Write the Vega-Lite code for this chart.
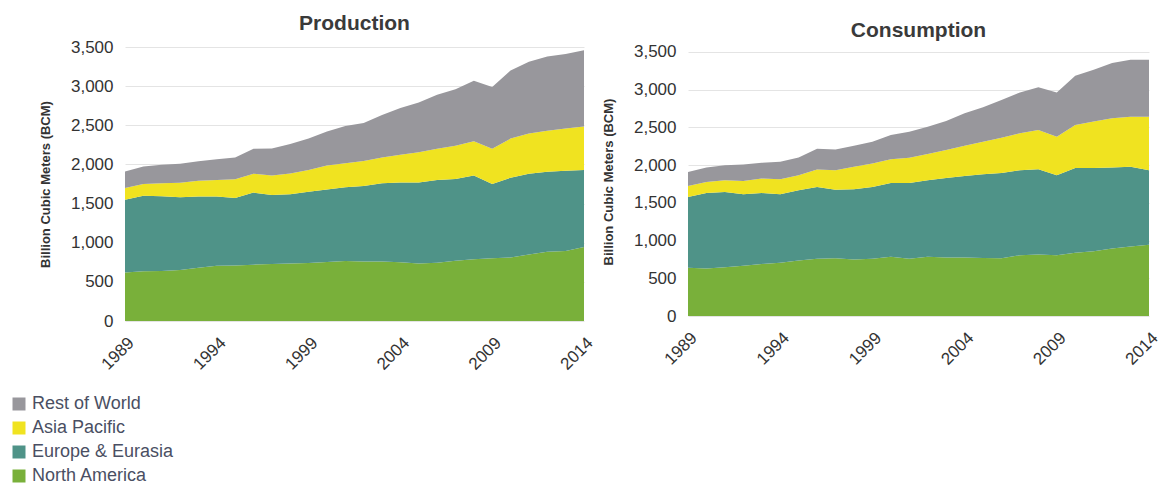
{
  "$schema": "https://vega.github.io/schema/vega-lite/v6.json",
  "padding": {"left": 10, "top": 13, "right": 5, "bottom": 0},
  "background": "white",
  "datasets": {
    "prod": [
      {"year":1989,"region":"North America","value":620},{"year":1989,"region":"Europe & Eurasia","value":930},{"year":1989,"region":"Asia Pacific","value":150},{"year":1989,"region":"Rest of World","value":210},
      {"year":1990,"region":"North America","value":635},{"year":1990,"region":"Europe & Eurasia","value":965},{"year":1990,"region":"Asia Pacific","value":150},{"year":1990,"region":"Rest of World","value":225},
      {"year":1991,"region":"North America","value":638},{"year":1991,"region":"Europe & Eurasia","value":957},{"year":1991,"region":"Asia Pacific","value":165},{"year":1991,"region":"Rest of World","value":235},
      {"year":1992,"region":"North America","value":650},{"year":1992,"region":"Europe & Eurasia","value":930},{"year":1992,"region":"Asia Pacific","value":185},{"year":1992,"region":"Rest of World","value":245},
      {"year":1993,"region":"North America","value":680},{"year":1993,"region":"Europe & Eurasia","value":910},{"year":1993,"region":"Asia Pacific","value":200},{"year":1993,"region":"Rest of World","value":250},
      {"year":1994,"region":"North America","value":705},{"year":1994,"region":"Europe & Eurasia","value":885},{"year":1994,"region":"Asia Pacific","value":210},{"year":1994,"region":"Rest of World","value":265},
      {"year":1995,"region":"North America","value":708},{"year":1995,"region":"Europe & Eurasia","value":862},{"year":1995,"region":"Asia Pacific","value":240},{"year":1995,"region":"Rest of World","value":280},
      {"year":1996,"region":"North America","value":720},{"year":1996,"region":"Europe & Eurasia","value":920},{"year":1996,"region":"Asia Pacific","value":240},{"year":1996,"region":"Rest of World","value":320},
      {"year":1997,"region":"North America","value":728},{"year":1997,"region":"Europe & Eurasia","value":882},{"year":1997,"region":"Asia Pacific","value":250},{"year":1997,"region":"Rest of World","value":345},
      {"year":1998,"region":"North America","value":735},{"year":1998,"region":"Europe & Eurasia","value":885},{"year":1998,"region":"Asia Pacific","value":265},{"year":1998,"region":"Rest of World","value":375},
      {"year":1999,"region":"North America","value":740},{"year":1999,"region":"Europe & Eurasia","value":910},{"year":1999,"region":"Asia Pacific","value":280},{"year":1999,"region":"Rest of World","value":400},
      {"year":2000,"region":"North America","value":755},{"year":2000,"region":"Europe & Eurasia","value":925},{"year":2000,"region":"Asia Pacific","value":305},{"year":2000,"region":"Rest of World","value":435},
      {"year":2001,"region":"North America","value":768},{"year":2001,"region":"Europe & Eurasia","value":942},{"year":2001,"region":"Asia Pacific","value":305},{"year":2001,"region":"Rest of World","value":475},
      {"year":2002,"region":"North America","value":760},{"year":2002,"region":"Europe & Eurasia","value":965},{"year":2002,"region":"Asia Pacific","value":320},{"year":2002,"region":"Rest of World","value":485},
      {"year":2003,"region":"North America","value":760},{"year":2003,"region":"Europe & Eurasia","value":1000},{"year":2003,"region":"Asia Pacific","value":330},{"year":2003,"region":"Rest of World","value":540},
      {"year":2004,"region":"North America","value":750},{"year":2004,"region":"Europe & Eurasia","value":1020},{"year":2004,"region":"Asia Pacific","value":355},{"year":2004,"region":"Rest of World","value":595},
      {"year":2005,"region":"North America","value":735},{"year":2005,"region":"Europe & Eurasia","value":1035},{"year":2005,"region":"Asia Pacific","value":385},{"year":2005,"region":"Rest of World","value":635},
      {"year":2006,"region":"North America","value":745},{"year":2006,"region":"Europe & Eurasia","value":1055},{"year":2006,"region":"Asia Pacific","value":400},{"year":2006,"region":"Rest of World","value":690},
      {"year":2007,"region":"North America","value":770},{"year":2007,"region":"Europe & Eurasia","value":1045},{"year":2007,"region":"Asia Pacific","value":425},{"year":2007,"region":"Rest of World","value":720},
      {"year":2008,"region":"North America","value":790},{"year":2008,"region":"Europe & Eurasia","value":1070},{"year":2008,"region":"Asia Pacific","value":435},{"year":2008,"region":"Rest of World","value":775},
      {"year":2009,"region":"North America","value":800},{"year":2009,"region":"Europe & Eurasia","value":950},{"year":2009,"region":"Asia Pacific","value":450},{"year":2009,"region":"Rest of World","value":790},
      {"year":2010,"region":"North America","value":810},{"year":2010,"region":"Europe & Eurasia","value":1020},{"year":2010,"region":"Asia Pacific","value":500},{"year":2010,"region":"Rest of World","value":870},
      {"year":2011,"region":"North America","value":850},{"year":2011,"region":"Europe & Eurasia","value":1030},{"year":2011,"region":"Asia Pacific","value":515},{"year":2011,"region":"Rest of World","value":915},
      {"year":2012,"region":"North America","value":885},{"year":2012,"region":"Europe & Eurasia","value":1020},{"year":2012,"region":"Asia Pacific","value":525},{"year":2012,"region":"Rest of World","value":950},
      {"year":2013,"region":"North America","value":895},{"year":2013,"region":"Europe & Eurasia","value":1025},{"year":2013,"region":"Asia Pacific","value":540},{"year":2013,"region":"Rest of World","value":950},
      {"year":2014,"region":"North America","value":945},{"year":2014,"region":"Europe & Eurasia","value":985},{"year":2014,"region":"Asia Pacific","value":555},{"year":2014,"region":"Rest of World","value":975}
    ],
    "cons": [
      {"year":1989,"region":"North America","value":640},{"year":1989,"region":"Europe & Eurasia","value":937},{"year":1989,"region":"Asia Pacific","value":147},{"year":1989,"region":"Rest of World","value":186},
      {"year":1990,"region":"North America","value":630},{"year":1990,"region":"Europe & Eurasia","value":1000},{"year":1990,"region":"Asia Pacific","value":147},{"year":1990,"region":"Rest of World","value":191},
      {"year":1991,"region":"North America","value":645},{"year":1991,"region":"Europe & Eurasia","value":999},{"year":1991,"region":"Asia Pacific","value":156},{"year":1991,"region":"Rest of World","value":199},
      {"year":1992,"region":"North America","value":665},{"year":1992,"region":"Europe & Eurasia","value":948},{"year":1992,"region":"Asia Pacific","value":177},{"year":1992,"region":"Rest of World","value":218},
      {"year":1993,"region":"North America","value":690},{"year":1993,"region":"Europe & Eurasia","value":940},{"year":1993,"region":"Asia Pacific","value":192},{"year":1993,"region":"Rest of World","value":208},
      {"year":1994,"region":"North America","value":705},{"year":1994,"region":"Europe & Eurasia","value":908},{"year":1994,"region":"Asia Pacific","value":200},{"year":1994,"region":"Rest of World","value":231},
      {"year":1995,"region":"North America","value":735},{"year":1995,"region":"Europe & Eurasia","value":931},{"year":1995,"region":"Asia Pacific","value":200},{"year":1995,"region":"Rest of World","value":235},
      {"year":1996,"region":"North America","value":760},{"year":1996,"region":"Europe & Eurasia","value":950},{"year":1996,"region":"Asia Pacific","value":231},{"year":1996,"region":"Rest of World","value":276},
      {"year":1997,"region":"North America","value":765},{"year":1997,"region":"Europe & Eurasia","value":910},{"year":1997,"region":"Asia Pacific","value":257},{"year":1997,"region":"Rest of World","value":276},
      {"year":1998,"region":"North America","value":750},{"year":1998,"region":"Europe & Eurasia","value":930},{"year":1998,"region":"Asia Pacific","value":297},{"year":1998,"region":"Rest of World","value":280},
      {"year":1999,"region":"North America","value":760},{"year":1999,"region":"Europe & Eurasia","value":950},{"year":1999,"region":"Asia Pacific","value":311},{"year":1999,"region":"Rest of World","value":289},
      {"year":2000,"region":"North America","value":785},{"year":2000,"region":"Europe & Eurasia","value":979},{"year":2000,"region":"Asia Pacific","value":315},{"year":2000,"region":"Rest of World","value":320},
      {"year":2001,"region":"North America","value":760},{"year":2001,"region":"Europe & Eurasia","value":1004},{"year":2001,"region":"Asia Pacific","value":333},{"year":2001,"region":"Rest of World","value":346},
      {"year":2002,"region":"North America","value":785},{"year":2002,"region":"Europe & Eurasia","value":1015},{"year":2002,"region":"Asia Pacific","value":346},{"year":2002,"region":"Rest of World","value":364},
      {"year":2003,"region":"North America","value":775},{"year":2003,"region":"Europe & Eurasia","value":1055},{"year":2003,"region":"Asia Pacific","value":369},{"year":2003,"region":"Rest of World","value":387},
      {"year":2004,"region":"North America","value":775},{"year":2004,"region":"Europe & Eurasia","value":1082},{"year":2004,"region":"Asia Pacific","value":400},{"year":2004,"region":"Rest of World","value":431},
      {"year":2005,"region":"North America","value":770},{"year":2005,"region":"Europe & Eurasia","value":1110},{"year":2005,"region":"Asia Pacific","value":430},{"year":2005,"region":"Rest of World","value":458},
      {"year":2006,"region":"North America","value":765},{"year":2006,"region":"Europe & Eurasia","value":1132},{"year":2006,"region":"Asia Pacific","value":466},{"year":2006,"region":"Rest of World","value":502},
      {"year":2007,"region":"North America","value":805},{"year":2007,"region":"Europe & Eurasia","value":1127},{"year":2007,"region":"Asia Pacific","value":489},{"year":2007,"region":"Rest of World","value":542},
      {"year":2008,"region":"North America","value":815},{"year":2008,"region":"Europe & Eurasia","value":1131},{"year":2008,"region":"Asia Pacific","value":520},{"year":2008,"region":"Rest of World","value":568},
      {"year":2009,"region":"North America","value":805},{"year":2009,"region":"Europe & Eurasia","value":1061},{"year":2009,"region":"Asia Pacific","value":511},{"year":2009,"region":"Rest of World","value":586},
      {"year":2010,"region":"North America","value":840},{"year":2010,"region":"Europe & Eurasia","value":1123},{"year":2010,"region":"Asia Pacific","value":569},{"year":2010,"region":"Rest of World","value":653},
      {"year":2011,"region":"North America","value":860},{"year":2011,"region":"Europe & Eurasia","value":1103},{"year":2011,"region":"Asia Pacific","value":614},{"year":2011,"region":"Rest of World","value":688},
      {"year":2012,"region":"North America","value":895},{"year":2012,"region":"Europe & Eurasia","value":1073},{"year":2012,"region":"Asia Pacific","value":653},{"year":2012,"region":"Rest of World","value":733},
      {"year":2013,"region":"North America","value":920},{"year":2013,"region":"Europe & Eurasia","value":1057},{"year":2013,"region":"Asia Pacific","value":666},{"year":2013,"region":"Rest of World","value":755},
      {"year":2014,"region":"North America","value":945},{"year":2014,"region":"Europe & Eurasia","value":987},{"year":2014,"region":"Asia Pacific","value":711},{"year":2014,"region":"Rest of World","value":755}
    ]
  },
  "bounds": "flush",
  "spacing": 104,
  "hconcat": [
    {
      "title": {"text": "Production", "offset": 4},
      "width": 459,
      "height": 274,
      "data": {"name": "prod"},
      "transform": [{"calculate": "indexof(['North America','Europe & Eurasia','Asia Pacific','Rest of World'], datum.region)", "as": "stackOrder"}],
      "mark": {"type": "area", "line": false, "opacity": 1},
      "encoding": {
        "x": {"field": "year", "type": "quantitative", "scale": {"domain": [1989, 2014], "nice": false, "zero": false}, "axis": {"values": [1989, 1994, 1999, 2004, 2009, 2014], "format": "d", "title": null}},
        "y": {"field": "value", "type": "quantitative", "stack": "zero", "scale": {"domain": [0, 3500], "nice": false}, "axis": {"values": [0, 500, 1000, 1500, 2000, 2500, 3000, 3500], "format": ",d", "title": "Billion Cubic Meters (BCM)"}},
        "color": {"field": "region", "type": "nominal", "scale": {"domain": ["Rest of World", "Asia Pacific", "Europe & Eurasia", "North America"], "range": ["#98979c", "#f0e320", "#4f9388", "#79b03a"]}, "legend": {"title": null}},
        "order": {"field": "stackOrder", "type": "quantitative"}
      }
    },
    {
      "title": {"text": "Consumption", "offset": 2},
      "width": 461,
      "height": 269,
      "data": {"name": "cons"},
      "transform": [{"calculate": "indexof(['North America','Europe & Eurasia','Asia Pacific','Rest of World'], datum.region)", "as": "stackOrder"}],
      "mark": {"type": "area", "line": false, "opacity": 1},
      "encoding": {
        "x": {"field": "year", "type": "quantitative", "scale": {"domain": [1989, 2014], "nice": false, "zero": false}, "axis": {"values": [1989, 1994, 1999, 2004, 2009, 2014], "format": "d", "title": null}},
        "y": {"field": "value", "type": "quantitative", "stack": "zero", "scale": {"domain": [0, 3566], "nice": false}, "axis": {"values": [0, 500, 1000, 1500, 2000, 2500, 3000, 3500], "format": ",d", "title": "Billion Cubic Meters (BCM)", "titlePadding": 18}},
        "color": {"field": "region", "type": "nominal", "scale": {"domain": ["Rest of World", "Asia Pacific", "Europe & Eurasia", "North America"], "range": ["#98979c", "#f0e320", "#4f9388", "#79b03a"]}, "legend": {"title": null}},
        "order": {"field": "stackOrder", "type": "quantitative"}
      }
    }
  ],
  "config": {
    "font": "Liberation Sans",
    "view": {"stroke": null},
    "title": {"fontSize": 21, "fontWeight": "bold", "color": "#3a3a3a", "anchor": "middle", "baseline": "alphabetic", "font": "Liberation Sans"},
    "axis": {"domain": false, "ticks": false, "labelFont": "Liberation Sans", "titleFont": "Liberation Sans"},
    "axisX": {"grid": false, "labelAngle": -45, "labelPadding": 19, "labelOffset": 6, "labelFontSize": 17, "labelColor": "#333333", "labelAlign": "right", "labelBaseline": "middle"},
    "axisY": {"grid": true, "gridColor": "#e4e4e4", "gridWidth": 1, "labelPadding": 12, "labelFontSize": 17, "labelColor": "#333333", "titleFontSize": 13, "titleFontWeight": "bold", "titleColor": "#333333", "titlePadding": 18},
    "legend": {
      "orient": "none",
      "legendX": -115,
      "legendY": 348,
      "padding": 0,
      "symbolType": "square",
      "symbolSize": 169,
      "symbolStrokeWidth": 0,
      "symbolOpacity": 1,
      "labelFontSize": 18,
      "labelColor": "#4a4f63",
      "labelFont": "Liberation Sans",
      "rowPadding": 6,
      "labelOffset": 4
    }
  }
}
